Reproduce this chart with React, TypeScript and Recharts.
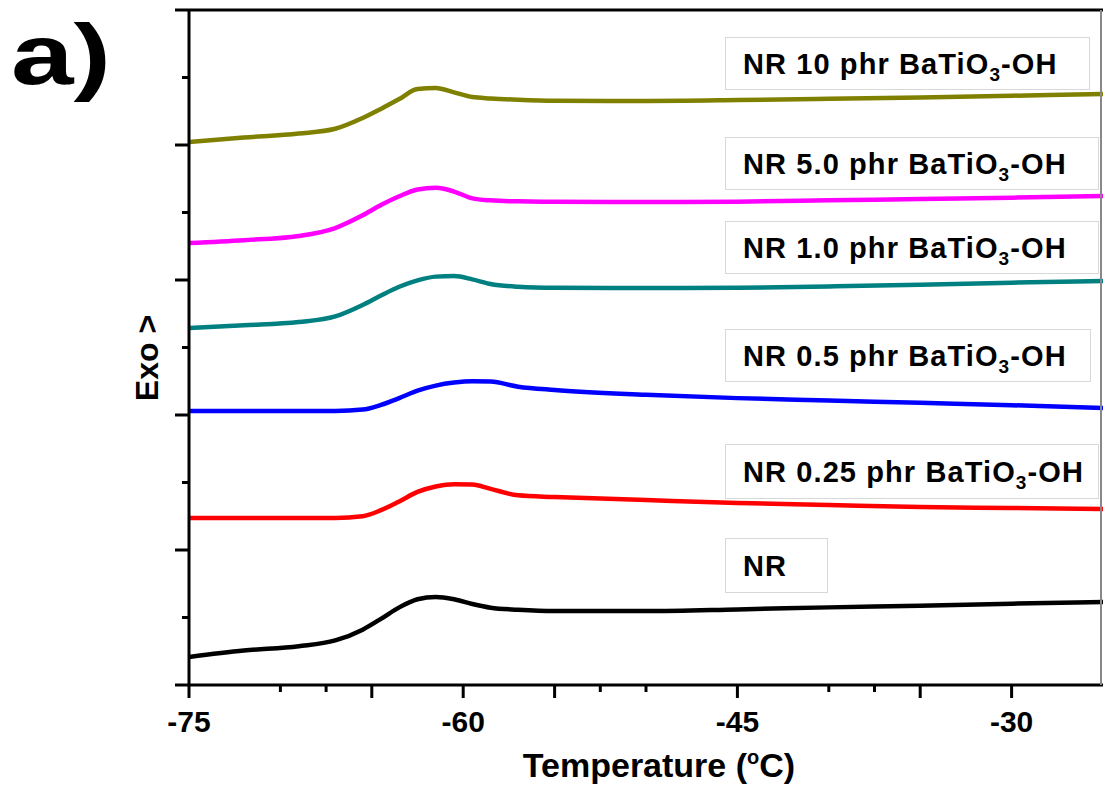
import { LineChart, Line, XAxis, YAxis, ReferenceLine } from 'recharts';

// temperature grid (°C)
const temps = [-75, -72, -69, -67, -65.5, -64.5, -63.5, -62.5, -61.5, -60.5, -59.5, -58.5, -57, -55, -50, -45, -40, -35, -30, -25];

// heat flow (arbitrary units, stacked) per sample
const nr = [0.415, 0.51, 0.575, 0.66, 0.82, 0.98, 1.15, 1.27, 1.305, 1.27, 1.2, 1.145, 1.115, 1.096, 1.096, 1.12, 1.15, 1.175, 1.205, 1.23];
const phr025 = [2.474, 2.474, 2.474, 2.474, 2.5, 2.59, 2.72, 2.86, 2.94, 2.975, 2.97, 2.905, 2.81, 2.785, 2.74, 2.696, 2.667, 2.637, 2.622, 2.607];
const phr05 = [4.059, 4.059, 4.059, 4.06, 4.08, 4.15, 4.25, 4.36, 4.435, 4.48, 4.5, 4.495, 4.42, 4.37, 4.3, 4.25, 4.215, 4.18, 4.145, 4.104];
const phr10 = [5.289, 5.33, 5.378, 5.46, 5.63, 5.77, 5.9, 5.995, 6.05, 6.058, 6.01, 5.94, 5.9, 5.885, 5.881, 5.885, 5.905, 5.93, 5.96, 5.985];
const phr50 = [6.548, 6.59, 6.652, 6.77, 6.96, 7.11, 7.24, 7.34, 7.365, 7.31, 7.21, 7.18, 7.165, 7.16, 7.156, 7.16, 7.18, 7.2, 7.22, 7.244];
const phr100 = [8.044, 8.11, 8.17, 8.24, 8.4, 8.535, 8.68, 8.83, 8.845, 8.78, 8.71, 8.69, 8.67, 8.655, 8.652, 8.665, 8.685, 8.705, 8.73, 8.756];

const xTicks = [-75, -70, -67.5, -65, -60, -55, -52.5, -50, -45, -40, -37.5, -35, -30];
const xLongTicks = [-75, -65, -60, -55, -45, -35, -30];
const xLabelTicks = [-75, -60, -45, -30];
const yTicks = [0, 1, 2, 3, 4, 5, 6, 7, 8, 9, 10];

const series = [
  { key: 'nr', color: '#000000' },
  { key: 'phr025', color: '#ff0000' },
  { key: 'phr05', color: '#0000ff' },
  { key: 'phr10', color: '#008080' },
  { key: 'phr50', color: '#ff00ff' },
  { key: 'phr100', color: '#808000' },
];

const data = temps.map((t, i) => ({
  t,
  nr: nr[i],
  phr025: phr025[i],
  phr05: phr05[i],
  phr10: phr10[i],
  phr50: phr50[i],
  phr100: phr100[i],
}));

const FONT = "Arial, 'Liberation Sans', sans-serif";

// legend boxes
const boxes = [
  { top: 37, width: 364, height: 52, pre: 'NR 10 phr BaTiO', sub: '3', post: '-OH' },
  { top: 137, width: 373, height: 52, pre: 'NR 5.0 phr BaTiO', sub: '3', post: '-OH' },
  { top: 221, width: 373, height: 52, pre: 'NR 1.0 phr BaTiO', sub: '3', post: '-OH' },
  { top: 329, width: 365, height: 52, pre: 'NR 0.5 phr BaTiO', sub: '3', post: '-OH' },
  { top: 444, width: 373, height: 54, pre: 'NR 0.25 phr BaTiO', sub: '3', post: '-OH' },
  { top: 538, width: 102, height: 54, pre: 'NR', sub: '', post: '' },
];

const XTick = (props: any) => {
  const { x, y, payload } = props;
  const v = payload.value;
  const long = xLongTicks.includes(v);
  return (
    <g>
      <line x1={x} x2={x} y1={y} y2={y + (long ? 13 : 7)} stroke="#000" strokeWidth={3} />
      {xLabelTicks.includes(v) && (
        <text x={x} y={y + 47} textAnchor="middle" fontFamily={FONT} fontWeight="bold" fontSize={30} fill="#000">
          {v}
        </text>
      )}
    </g>
  );
};

const YTick = (props: any) => {
  const { x, y, payload } = props;
  const long = payload.value % 2 === 0;
  return <line x1={x} x2={x - (long ? 14 : 7)} y1={y} y2={y} stroke="#000" strokeWidth={3} />;
};

export default function App() {
  return (
    <div style={{ position: 'absolute', left: 0, top: 0, width: 1103, height: 787, background: '#fff' }}>
      <LineChart width={1103} height={787} data={data} margin={{ top: 10, right: 0, left: 129, bottom: 72 }}>
        <XAxis
          dataKey="t"
          type="number"
          domain={[-75, -25]}
          ticks={xTicks}
          interval={0}
          allowDataOverflow
          tickSize={0}
          tickMargin={0}
          tickLine={false}
          axisLine={{ stroke: '#000', strokeWidth: 3 }}
          tick={<XTick />}
        />
        <YAxis
          type="number"
          domain={[0, 10]}
          ticks={yTicks}
          interval={0}
          width={60}
          tickSize={0}
          tickMargin={0}
          tickLine={false}
          axisLine={{ stroke: '#000', strokeWidth: 3 }}
          tick={<YTick />}
        />
        <ReferenceLine y={10} stroke="#000" strokeWidth={3} />
        {series.map((s) => (
          <Line
            key={s.key}
            type="monotone"
            dataKey={s.key}
            stroke={s.color}
            strokeWidth={4.5}
            dot={false}
            activeDot={false}
            isAnimationActive={false}
          />
        ))}
      </LineChart>
      <svg
        width={1103}
        height={787}
        style={{ position: 'absolute', left: 0, top: 0, pointerEvents: 'none' }}
        fontFamily={FONT}
        fontWeight="bold"
      >
        <line x1={1101} x2={1101} y1={10} y2={685} stroke="#888" strokeWidth={2} />
        <text x={11} y={84} fontSize={86} fill="#000" textLength={100} lengthAdjust="spacingAndGlyphs">
          a)
        </text>
        {boxes.map((b) => (
          <g key={b.pre}>
            <rect x={725.5} y={b.top + 0.5} width={b.width} height={b.height} fill="#fff" stroke="#d8d8d8" strokeWidth={1} />
            <text x={743} y={b.top + b.height / 2 + 11} fontSize={29} letterSpacing={1.1} fill="#000">
              {b.pre}
              {b.sub && (
                <tspan fontSize={19} dy={7}>
                  {b.sub}
                </tspan>
              )}
              {b.post && <tspan dy={b.sub ? -7 : 0}>{b.post}</tspan>}
            </text>
          </g>
        ))}
        <text x={659} y={777} textAnchor="middle" fontSize={34} fill="#000">
          Temperature (<tspan fontSize={20} dy={-13}>o</tspan>
          <tspan dy={13}>C)</tspan>
        </text>
        <text
          x={158}
          y={358}
          textAnchor="middle"
          fontSize={32}
          fill="#000"
          transform="rotate(-90 158 358)"
        >
          Exo &gt;
        </text>
      </svg>
    </div>
  );
}
